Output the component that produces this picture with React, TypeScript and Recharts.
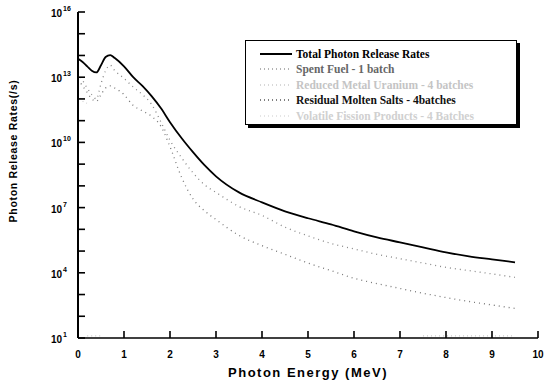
import { LineChart, Line, XAxis, YAxis } from 'recharts';

// photon energy (MeV)
const ENERGY = [0, 0.1, 0.2, 0.3, 0.4, 0.5, 0.6, 0.7, 0.8, 1.0, 1.2, 1.4, 1.6, 1.8, 2.0, 2.25, 2.5, 2.75, 3.0, 3.5, 4.0, 4.5, 5.0, 5.5, 6.0, 6.5, 7.0, 7.5, 8.0, 8.5, 9.0, 9.5];

// log10 of release rate (/s)
const TOTAL = [13.85, 13.7, 13.5, 13.3, 13.22, 13.55, 13.93, 14.02, 13.88, 13.5, 13.0, 12.6, 12.13, 11.58, 10.93, 10.2, 9.55, 8.95, 8.44, 7.7, 7.24, 6.83, 6.51, 6.23, 5.91, 5.63, 5.4, 5.17, 4.94, 4.76, 4.62, 4.48];
const SPENT_FUEL = [13.2, 12.85, 12.5, 12.2, 12.0, 12.7, 13.3, 13.55, 13.3, 12.95, 12.55, 12.2, 11.75, 10.95, 10.1, 9.3, 8.6, 8.05, 7.7, 7.05, 6.64, 6.1, 5.7, 5.35, 5.1, 4.85, 4.65, 4.45, 4.25, 4.1, 3.95, 3.79];
const MOLTEN_SALTS = [12.9, 12.6, 12.3, 12.0, 11.9, 12.2, 12.5, 12.6, 12.5, 12.2, 11.7, 11.45, 11.2, 10.75, 9.8, 8.4, 7.4, 6.85, 6.45, 5.72, 5.25, 4.85, 4.45, 4.1, 3.75, 3.5, 3.28, 3.06, 2.86, 2.68, 2.52, 2.36];
const METAL_URANIUM = [12.2, 11.9, 11.8, null, null, null, null, null, null, null, null, null, null, null, null, null, null, null, null, null, null, null, null, null, null, null, null, null, null, null, null, null];
const VOLATILE_FP = [null, null, 1.1, 1.1, 1.1, 1.1, null, null, null, null, null, null, null, null, null, null, null, null, null, null, null, null, null, null, null, null, null, 1.1, 1.1, 1.1, 1.1, 1.1];

const X_TICKS = [0, 1, 2, 3, 4, 5, 6, 7, 8, 9, 10];
const Y_TICKS = [1, 2, 3, 4, 5, 6, 7, 8, 9, 10, 11, 12, 13, 14, 15, 16];
const Y_LABELED = [1, 4, 7, 10, 13, 16];

const LEGEND = [
  { name: 'Total Photon Release Rates', color: '#000', dash: undefined, text: '#000', width: 2 },
  { name: 'Spent Fuel - 1 batch', color: '#999', dash: '1 3', text: '#666', width: 1.5 },
  { name: 'Reduced Metal Uranium - 4 batches', color: '#ccc', dash: '1 3', text: '#c4c4c4', width: 1.5 },
  { name: 'Residual Molten Salts - 4batches', color: '#555', dash: '1 3', text: '#111', width: 1.5 },
  { name: 'Volatile Fission Products - 4 Batches', color: '#ddd', dash: '1 3', text: '#d0d0d0', width: 1.5 },
];

const data = ENERGY.map((e, i) => ({
  e,
  total: TOTAL[i],
  spent: SPENT_FUEL[i],
  salts: MOLTEN_SALTS[i],
  uranium: METAL_URANIUM[i],
  volatile: VOLATILE_FP[i],
}));

const font = '"Liberation Sans", Arial, sans-serif';
const PLOT_LEFT = 78;
const PLOT_RIGHT = 538;
const PLOT_TOP = 12;
const PLOT_BOTTOM = 338;

const xPix = (v: number) => PLOT_LEFT + (v / 10) * (PLOT_RIGHT - PLOT_LEFT);
const yPix = (v: number) => PLOT_BOTTOM - ((v - 1) / 15) * (PLOT_BOTTOM - PLOT_TOP);

const YTick = (props: any) => {
  const { y, payload } = props;
  const v = payload.value;
  const x = PLOT_LEFT;
  if (!Y_LABELED.includes(v)) return <g />;
  return (
    <g>
      <text x={x - 16} y={y + 5} textAnchor="end" fontFamily={font} fontWeight="bold" fontSize={10} fill="#000">10</text>
      <text x={x - 15} y={y - 1} textAnchor="start" fontFamily={font} fontWeight="bold" fontSize={7} fill="#000">{v}</text>
    </g>
  );
};

const XTick = (props: any) => {
  const { x, payload } = props;
  return (
    <text x={x} y={PLOT_BOTTOM + 20} textAnchor="middle" fontFamily={font} fontWeight="bold" fontSize={10} fill="#000">{payload.value}</text>
  );
};

export default function App() {
  return (
    <div style={{ position: 'relative', width: 548, height: 389, background: '#fff' }}>
      <style>{'body{margin:0}'}</style>
      <LineChart width={548} height={389} data={data} margin={{ top: 12, right: 10, left: 0, bottom: 0 }}>
        <XAxis dataKey="e" type="number" domain={[0, 10]} ticks={X_TICKS} interval={0}
          tick={<XTick />} tickLine={false} height={51}
          axisLine={{ stroke: '#000', strokeWidth: 1.5 }} />
        <XAxis xAxisId="top" orientation="top" dataKey="e" type="number" domain={[0, 10]}
          tick={false} tickLine={false} height={0} axisLine={{ stroke: '#000', strokeWidth: 1 }} />
        <YAxis type="number" domain={[1, 16]} ticks={Y_TICKS} interval={0} allowDataOverflow
          tick={<YTick />} tickLine={false} width={78}
          axisLine={{ stroke: '#000', strokeWidth: 2 }} />
        <YAxis yAxisId="right" orientation="right" type="number" domain={[1, 16]}
          tick={false} tickLine={false} width={0} axisLine={{ stroke: '#333', strokeWidth: 1 }} />
        <Line dataKey="volatile" type="monotone" stroke="#ccc" strokeWidth={1.2} strokeDasharray="1 3" dot={false} isAnimationActive={false} />
        <Line dataKey="uranium" type="monotone" stroke="#d4d4d4" strokeWidth={1.2} strokeDasharray="1 3" dot={false} isAnimationActive={false} />
        <Line dataKey="salts" type="monotone" stroke="#777" strokeWidth={1.3} strokeDasharray="1 4" dot={false} isAnimationActive={false} />
        <Line dataKey="spent" type="monotone" stroke="#888" strokeWidth={1.3} strokeDasharray="1 4" dot={false} isAnimationActive={false} />
        <Line dataKey="total" type="monotone" stroke="#000" strokeWidth={1.8} dot={false} isAnimationActive={false} />
        <text x={14} y={151} transform="rotate(-90 14 151)" textAnchor="middle" dominantBaseline="middle"
          fontFamily={font} fontWeight="bold" fontSize={10.5} letterSpacing={0.7} fill="#000">
          Photon Release Rates(/s)
        </text>
        <text x={308} y={377} textAnchor="middle" fontFamily={font} fontWeight="bold" fontSize={13}
          letterSpacing={1.5} fill="#000">
          Photon Energy (MeV)
        </text>
      </LineChart>
      {/* inward tick marks */}
      <svg width={548} height={389} style={{ position: 'absolute', left: 0, top: 0, pointerEvents: 'none' }}>
        {X_TICKS.map((t) => (
          <line key={'x' + t} x1={xPix(t)} x2={xPix(t)} y1={PLOT_BOTTOM} y2={PLOT_BOTTOM - 7} stroke="#000" strokeWidth={1.6} />
        ))}
        {Y_TICKS.map((t) => (
          <line key={'y' + t} x1={PLOT_LEFT} x2={PLOT_LEFT + 7} y1={yPix(t)} y2={yPix(t)} stroke="#000" strokeWidth={1.6} />
        ))}
      </svg>
      <div style={{
        position: 'absolute', left: 245, top: 40, width: 272, height: 85,
        border: '1.5px solid #000', boxShadow: '3px 3px 0 #000', background: '#fff',
        boxSizing: 'border-box', padding: '5px 0 0 14px',
      }}>
        {LEGEND.map((l) => (
          <div key={l.name} style={{ display: 'flex', alignItems: 'center', height: 15.5 }}>
            <svg width={34} height={6} style={{ flex: 'none' }}>
              <line x1={0} x2={32} y1={3} y2={3} stroke={l.color} strokeWidth={l.width} strokeDasharray={l.dash} />
            </svg>
            <span style={{
              fontFamily: '"Liberation Serif", "Times New Roman", serif', fontWeight: 'bold',
              fontSize: 11.5, color: l.text, whiteSpace: 'nowrap', marginLeft: 2,
            }}>{l.name}</span>
          </div>
        ))}
      </div>
    </div>
  );
}
